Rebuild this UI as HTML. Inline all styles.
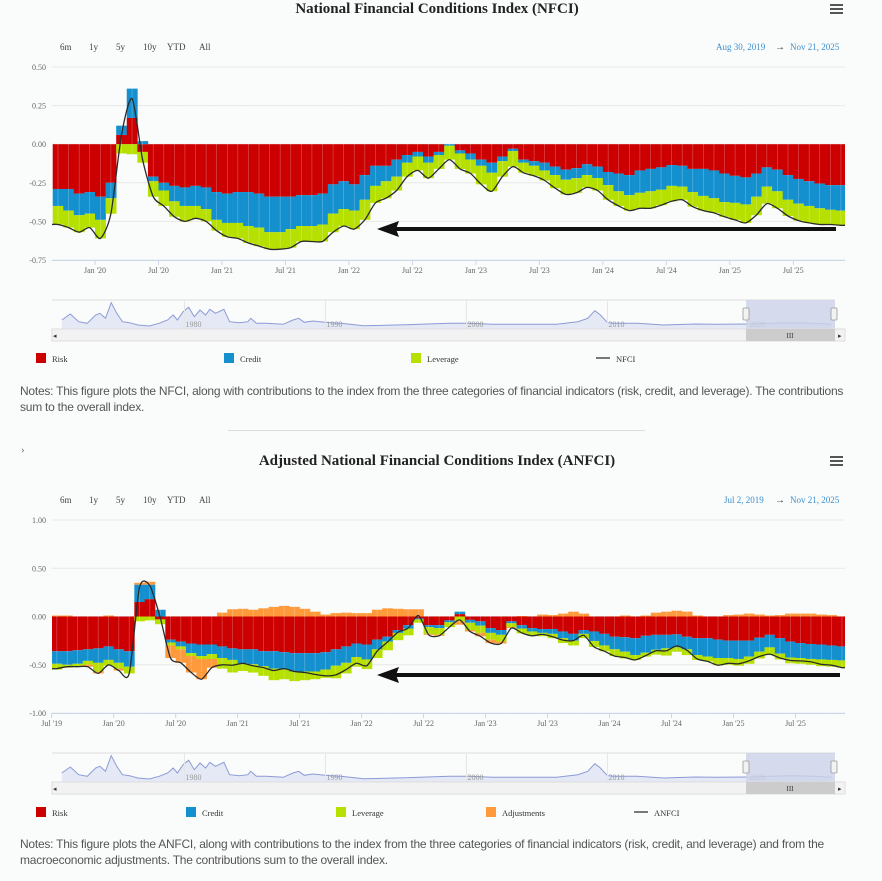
<!DOCTYPE html>
<html><head><meta charset="utf-8"><style>
body{margin:0;background:#fafbfb;width:882px;height:881px;overflow:hidden;font-family:"Liberation Serif",serif}
svg{position:absolute;left:0;top:0}
.notes{position:absolute;left:20px;width:862px;font-family:"Liberation Sans",sans-serif;font-size:12px;line-height:16px;color:#555;letter-spacing:-0.24px}
</style></head><body>
<svg id="svg" width="882" height="881"></svg>
<div class="notes" style="top:383px">Notes: This figure plots the NFCI, along with contributions to the index from the three categories of financial indicators (risk, credit, and leverage). The contributions<br>sum to the overall index.</div>
<div class="notes" style="top:836px">Notes: This figure plots the ANFCI, along with contributions to the index from the three categories of financial indicators (risk, credit, and leverage) and from the<br>macroeconomic adjustments. The contributions sum to the overall index.</div>
<script>
// ---- NFCI data (monthly, Sep 2019 .. Nov 2025) ----
const nfciRisk=[-0.29,-0.29,-0.32,-0.31,
-0.34,-0.25,0.06,0.17,-0.05,-0.21,-0.25,-0.27,-0.28,-0.27,-0.28,-0.31,
-0.32,-0.31,-0.31,-0.32,-0.34,-0.34,-0.34,-0.33,-0.33,-0.32,-0.26,-0.24,
-0.26,-0.20,-0.14,-0.14,-0.10,-0.07,-0.05,-0.08,-0.05,0.0,-0.04,-0.06,
-0.10,-0.12,-0.08,-0.03,-0.10,-0.11,-0.12,-0.145,-0.165,-0.155,-0.13,-0.145,
-0.18,-0.19,-0.20,-0.17,-0.16,-0.15,-0.135,-0.14,-0.16,-0.16,-0.17,-0.19,
-0.205,-0.215,-0.19,-0.15,-0.165,-0.20,-0.225,-0.24,-0.255,-0.265,-0.265];
const nfciCredit=[-0.11,-0.14,-0.14,-0.14,
-0.15,-0.10,0.06,0.19,0.02,-0.03,-0.05,-0.10,-0.12,-0.13,-0.14,-0.18,
-0.19,-0.20,-0.22,-0.22,-0.23,-0.23,-0.21,-0.20,-0.20,-0.20,-0.19,-0.18,
-0.17,-0.16,-0.13,-0.10,-0.11,-0.05,-0.03,-0.04,-0.02,-0.01,-0.02,-0.04,
-0.04,-0.065,-0.03,-0.015,-0.02,-0.03,-0.05,-0.055,-0.065,-0.065,-0.07,-0.075,
-0.085,-0.115,-0.13,-0.145,-0.145,-0.145,-0.135,-0.135,-0.15,-0.175,-0.18,-0.185,
-0.175,-0.175,-0.15,-0.125,-0.14,-0.16,-0.16,-0.16,-0.16,-0.16,-0.165];
const nfciLeverage=[-0.12,-0.11,-0.11,-0.09,
-0.12,-0.10,-0.06,-0.065,-0.07,-0.10,-0.10,-0.10,-0.10,-0.08,-0.08,-0.07,
-0.09,-0.10,-0.11,-0.12,-0.11,-0.11,-0.12,-0.10,-0.10,-0.11,-0.12,-0.11,
-0.12,-0.13,-0.11,-0.11,-0.09,-0.09,-0.09,-0.10,-0.09,-0.09,-0.10,-0.09,
-0.12,-0.12,-0.10,-0.10,-0.065,-0.065,-0.065,-0.085,-0.095,-0.095,-0.08,-0.08,
-0.095,-0.095,-0.10,-0.10,-0.11,-0.10,-0.10,-0.085,-0.095,-0.095,-0.095,-0.095,
-0.11,-0.12,-0.12,-0.11,-0.11,-0.105,-0.11,-0.11,-0.105,-0.095,-0.095];
const nfciYTicks=[0.5,0.25,0,-0.25,-0.5,-0.75];
const nfciXLabels=["Jan '20","Jul '20","Jan '21","Jul '21","Jan '22","Jul '22","Jan '23","Jul '23","Jan '24","Jul '24","Jan '25","Jul '25"];
const nfciXMonths=[4,10,16,22,28,34,40,46,52,58,64,70];

// ---- ANFCI data (monthly, Jul 2019 .. Nov 2025) ----
const anfciRisk=[-0.36,-0.36,-0.35,-0.34,-0.33,-0.31,
-0.34,-0.36,0.15,0.18,-0.03,-0.24,-0.26,-0.28,-0.29,-0.29,-0.31,-0.33,
-0.34,-0.34,-0.36,-0.36,-0.37,-0.38,-0.38,-0.38,-0.37,-0.34,-0.31,-0.28,
-0.29,-0.24,-0.21,-0.14,-0.09,-0.02,-0.09,-0.09,-0.04,0.025,-0.035,-0.05,
-0.12,-0.14,-0.05,-0.09,-0.12,-0.13,-0.13,-0.155,-0.18,-0.14,-0.155,-0.18,
-0.21,-0.215,-0.225,-0.20,-0.19,-0.19,-0.185,-0.21,-0.225,-0.225,-0.24,-0.25,
-0.25,-0.25,-0.22,-0.19,-0.225,-0.26,-0.275,-0.285,-0.29,-0.30,-0.31];
const anfciCredit=[-0.13,-0.14,-0.14,-0.12,-0.15,-0.14,
-0.14,-0.16,0.18,0.15,0.07,-0.03,-0.05,-0.10,-0.12,-0.10,-0.12,-0.12,
-0.145,-0.155,-0.155,-0.18,-0.18,-0.19,-0.19,-0.19,-0.18,-0.17,-0.17,-0.14,
-0.155,-0.10,-0.05,-0.03,-0.035,-0.01,-0.02,-0.03,-0.02,0.025,-0.03,-0.045,
-0.05,-0.05,-0.02,-0.035,-0.035,-0.04,-0.05,-0.07,-0.07,-0.04,-0.10,-0.12,
-0.13,-0.15,-0.175,-0.175,-0.155,-0.14,-0.135,-0.13,-0.175,-0.19,-0.19,-0.18,
-0.19,-0.165,-0.145,-0.13,-0.16,-0.165,-0.155,-0.155,-0.155,-0.15,-0.145];
const anfciLeverage=[-0.06,-0.03,-0.03,-0.04,-0.09,-0.06,
-0.06,-0.07,-0.05,-0.04,-0.05,-0.03,-0.03,-0.03,-0.03,-0.05,-0.11,-0.13,
-0.08,-0.086,-0.10,-0.12,-0.10,-0.10,-0.09,-0.08,-0.085,-0.13,-0.11,-0.10,
-0.10,-0.09,-0.09,-0.075,-0.07,-0.035,-0.07,-0.07,-0.05,-0.05,-0.075,-0.075,
-0.07,-0.07,-0.04,-0.05,-0.045,-0.035,-0.045,-0.05,-0.05,-0.045,-0.06,-0.06,
-0.07,-0.07,-0.05,-0.04,-0.05,-0.075,-0.045,-0.06,-0.05,-0.05,-0.07,-0.07,
-0.07,-0.075,-0.07,-0.08,-0.06,-0.06,-0.06,-0.06,-0.07,-0.07,-0.075];
const anfciAdjust=[0.01,0.01,0.0,-0.02,-0.02,0.01,
-0.02,0.0,0.02,0.03,0.0,-0.13,-0.14,-0.17,-0.21,-0.09,0.04,0.075,
0.08,0.07,0.085,0.10,0.11,0.10,0.08,0.05,0.02,0.035,0.04,0.035,
0.035,0.07,0.085,0.08,0.075,0.075,-0.01,-0.01,0.0,-0.035,-0.015,-0.035,
-0.035,-0.02,-0.01,0.005,0.0,0.02,0.015,0.03,0.05,0.03,0.0,0.0,
0.0,0.01,0.0,0.01,0.04,0.05,0.06,0.05,0.01,0.0,-0.005,0.015,
0.02,0.03,0.02,0.01,0.015,0.03,0.03,0.03,0.02,0.015,0.0];
const anfciYTicks=[1,0.5,0,-0.5,-1];
const anfciXLabels=["Jul '19","Jan '20","Jul '20","Jan '21","Jul '21","Jan '22","Jul '22","Jan '23","Jul '23","Jan '24","Jul '24","Jan '25","Jul '25"];
const anfciXMonths=[0,6,12,18,24,30,36,42,48,54,60,66,72];

// ---- navigator history (year, index value) ----
const navYears=[1971.3,1971.9,1972.5,1973.1,1973.7,1974.0,1974.4,1974.8,1975.2,1975.6,1976.1,1976.7,1977.5,1978.2,1978.8,1979.2,1979.5,1979.9,1980.3,1980.7,1981.1,1981.5,1981.8,1982.2,1982.8,1983.2,1983.9,1984.5,1984.7,1985.1,1985.8,1987.0,1987.7,1988.1,1988.5,1989.1,1989.6,1990.4,1991.1,1992.7,1994.2,1995.7,1997.2,1998.8,2000.3,2001.8,2004.1,2006.4,2007.9,2008.6,2009.1,2009.5,2010.0,2010.5,2012.1,2014.0,2016.2,2017.7,2020.0,2021.6,2023.1,2024.6,2025.9];
const navValues=[0.5,1.1,0.33,0.17,1.0,1.17,0.67,2.23,1.17,0.33,0.23,0.0,-0.1,0.17,0.5,1.0,0.5,1.33,1.77,0.83,1.5,1.0,1.57,1.17,1.57,0.33,0.23,0.33,0.67,0.17,0.17,0.07,0.5,0.67,0.27,0.4,0.33,0.23,0.17,-0.07,-0.03,0.03,0.1,0.17,0.17,0.07,0.07,0.07,0.33,0.67,1.43,1.0,0.23,0.17,0.17,0.0,0.1,0.07,0.1,0.17,0.23,0.17,0.07];
const navLabels=["1980","1990","2000","2010","2020"];
const navLabelYears=[1980,1990,2000,2010,2020];

const NS='http://www.w3.org/2000/svg';
const svg=document.getElementById('svg');
function mk(tag,attrs,parent){const e=document.createElementNS(NS,tag);for(const k in attrs)e.setAttribute(k,attrs[k]);(parent||svg).appendChild(e);return e;}
function txt(s,x,y,attrs,parent){const t=mk('text',Object.assign({x:x,y:y},attrs),parent);t.textContent=s;return t;}
function smooth(pts){let d='M'+pts[0][0].toFixed(1)+','+pts[0][1].toFixed(1);
 for(let i=0;i<pts.length-1;i++){const p0=pts[Math.max(0,i-1)],p1=pts[i],p2=pts[i+1],p3=pts[Math.min(pts.length-1,i+2)];
 const c1=[p1[0]+(p2[0]-p0[0])/8,p1[1]+(p2[1]-p0[1])/8],c2=[p2[0]-(p3[0]-p1[0])/8,p2[1]-(p3[1]-p1[1])/8];
 d+='C'+c1[0].toFixed(1)+','+c1[1].toFixed(1)+' '+c2[0].toFixed(1)+','+c2[1].toFixed(1)+' '+p2[0].toFixed(1)+','+p2[1].toFixed(1);}return d;}

const COLORS={risk:'#cc0000',credit:'#1490cf',leverage:'#b6e000',adjust:'#ff9a3c'};

function chart(cfg){
 const g=mk('g',{});
 
 
 const yS=v=>cfg.yTop+(cfg.vTop-v)/(cfg.vTop-cfg.vBot)*(cfg.yBot-cfg.yTop);
 const xS=m=>cfg.x0m+m*cfg.mpx;
 const t=txt(cfg.title,437,cfg.titleY,{'text-anchor':'middle','font-size':'15','font-weight':'bold',fill:'#222','font-family':'Liberation Serif,serif'},g);
 
 
 const menu=mk('g',{},g);
 
 
 for(let i=0;i<3;i++)mk('rect',{x:830,y:cfg.titleY-9+i*4,width:13,height:2,fill:'#555'},menu);
 const btns=['6m','1y','5y','10y','YTD','All'],bx=[60,89,116,143,167,199];
 btns.forEach((b,i)=>{const e=txt(b,bx[i],cfg.btnY,{'font-size':'9',fill:'#444'},g);
  
  });
 const d1=txt(cfg.from,cfg.fromX,cfg.btnY,{'font-size':'9',fill:'#3a8fd1'},g);
 
 
 txt('→',775,cfg.btnY,{'font-size':'10',fill:'#333'},g);
 const d2=txt('Nov 21, 2025',790,cfg.btnY,{'font-size':'9',fill:'#3a8fd1'},g);
 
 
 cfg.yTicks.forEach(v=>{const y=yS(v);
  mk('line',{x1:52,x2:845,y1:y,y2:y,stroke:'#e8e8e8','stroke-width':1},g);
  const l=txt(v.toFixed(2),46,y+3,{'text-anchor':'end','font-size':'8',fill:'#666'},g);
  
  });
 mk('line',{x1:52,x2:845,y1:cfg.yBot+0.5,y2:cfg.yBot+0.5,stroke:'#ccd6eb'},g);
 cfg.xLabels.forEach((s,i)=>{const x=xS(cfg.xMonths[i]);
  mk('line',{x1:x,x2:x,y1:cfg.yBot,y2:cfg.yBot+5,stroke:'#ccd6eb'},g);
  const l=txt(s,x,cfg.yBot+13,{'text-anchor':'middle','font-size':'8',fill:'#666'},g);
  
  });
 const clipId='clip'+cfg.name;
 const cp=mk('clipPath',{id:clipId},g);mk('rect',{x:52,y:cfg.yTop-10,width:793,height:cfg.yBot-cfg.yTop+10},cp);
 const bars=mk('g',{'clip-path':'url(#'+clipId+')'},g);
 
 
 const n=cfg.series[0].vals.length,sums=[];
 for(let i=0;i<n;i++){let pos=0,neg=0,s=0;const x=xS(i);
  cfg.series.forEach(se=>{const v=se.vals[i];s+=v;let a,b;
   if(v>=0){a=pos;b=pos+v;pos=b;}else{a=neg;b=neg+v;neg=b;}
   const y1=yS(Math.max(a,b)),y2=yS(Math.min(a,b));
   const r=mk('rect',{x:x.toFixed(2),y:y1.toFixed(2),width:(cfg.mpx+0.3).toFixed(2),height:Math.max(0,y2-y1).toFixed(2),fill:se.color},bars);
   
   });
  sums.push(s);}
 for(let i=0;i<n;i++){const x=xS(i)+cfg.mpx*0.5;
  mk('line',{x1:x,x2:x,y1:cfg.yTop,y2:cfg.yBot,stroke:'#fafbfb','stroke-width':0.6,opacity:0.35},bars);}
 const pts=sums.map((s,i)=>[xS(i)+cfg.mpx/2,yS(s)]);
 pts.unshift([52,yS(sums[0])]);
 pts.push([845,yS(sums[n-1])]);
 const ln=mk('path',{d:smooth(pts),fill:'none',stroke:'#2a2a2a','stroke-width':1.3},g);
 
 
 const ar=mk('g',{},g);
 
 
 mk('line',{x1:395,x2:cfg.arrowEnd,y1:cfg.arrowY,y2:cfg.arrowY,stroke:'#111','stroke-width':4},ar);
 mk('polygon',{points:`377,${cfg.arrowY} 399,${cfg.arrowY-8} 396,${cfg.arrowY} 399,${cfg.arrowY+8}`,fill:'#111'},ar);
 const ny=cfg.navY;
 const nav=mk('g',{},g);
 
 
 mk('line',{x1:52,x2:835,y1:ny,y2:ny,stroke:'#ddd'},nav);
 const nx=yr=>61.8+(yr-1971.3)*14.1, nvy=v=>ny+25-v*10;
 const np=navYears.map((yr,i)=>[nx(yr),nvy(navValues[i])]);
 let d='M'+np.map(p=>p[0].toFixed(1)+','+p[1].toFixed(1)).join('L');
 mk('path',{d:d+`L${np[np.length-1][0]},${ny+29}L${np[0][0]},${ny+29}Z`,fill:'#e4e9f5'},nav);
 mk('path',{d:d,fill:'none',stroke:'#8c9bd6','stroke-width':1},nav);
 navLabels.forEach((s,i)=>{const x=nx(navLabelYears[i]);
  mk('line',{x1:x,x2:x,y1:ny,y2:ny+29,stroke:'#e6e6e6'},nav);
  txt(s,x+1,ny+27,{'font-size':'8',fill:'#999'},nav);});
 mk('rect',{x:746,y:ny,width:89,height:29,fill:'#ccd3e8',opacity:0.8},nav);
 [746,834].forEach(x=>{mk('rect',{x:x-3,y:ny+8,width:6,height:12,fill:'#f2f2f2',stroke:'#999','stroke-width':0.8,rx:1},nav);});
 mk('rect',{x:52,y:ny+29,width:793,height:12,fill:'#f2f2f2',stroke:'#ddd'},nav);
 mk('rect',{x:746,y:ny+29,width:89,height:12,fill:'#cccccc'},nav);
 txt('III',790,ny+38,{'text-anchor':'middle','font-size':'7',fill:'#333'},nav);
 txt('◂',53,ny+38,{'font-size':'7',fill:'#333'},nav);
 txt('▸',838,ny+38,{'font-size':'7',fill:'#333'},nav);
 cfg.legend.forEach(it=>{const lg=mk('g',{},g);
  
  
  if(it.color) mk('rect',{x:it.x,y:cfg.legY-9,width:10,height:10,fill:it.color},lg);
  else mk('line',{x1:it.x,x2:it.x+14,y1:cfg.legY-4,y2:cfg.legY-4,stroke:'#333','stroke-width':1.3},lg);
  txt(it.label,it.x+(it.color?16:20),cfg.legY,{'font-size':'8.5',fill:'#333'},lg);});
}

chart({name:'nfci-chart',title:'National Financial Conditions Index (NFCI)',titleY:13,btnY:50,from:'Aug 30, 2019',fromX:716,
 yTop:67,yBot:260,vTop:0.5,vBot:-0.75,x0m:52.7,mpx:10.58,yTicks:nfciYTicks,xLabels:nfciXLabels,xMonths:nfciXMonths,
 series:[{key:'risk',vals:nfciRisk,color:COLORS.risk},{key:'credit',vals:nfciCredit,color:COLORS.credit},{key:'leverage',vals:nfciLeverage,color:COLORS.leverage}],
 arrowY:229,arrowEnd:836,navY:300,legY:362,
 legend:[{x:36,label:'Risk',color:COLORS.risk},{x:224,label:'Credit',color:COLORS.credit},{x:411,label:'Leverage',color:COLORS.leverage},{x:596,label:'NFCI'}]});

mk('line',{x1:228,x2:645,y1:430.5,y2:430.5,stroke:'#ddd'});
txt('›',21,453,{'font-size':'11',fill:'#666'});

chart({name:'anfci-chart',title:'Adjusted National Financial Conditions Index (ANFCI)',titleY:465,btnY:503,from:'Jul 2, 2019',fromX:724,
 yTop:520,yBot:713,vTop:1,vBot:-1,x0m:51.7,mpx:10.33,yTicks:anfciYTicks,xLabels:anfciXLabels,xMonths:anfciXMonths,
 series:[{key:'risk',vals:anfciRisk,color:COLORS.risk},{key:'credit',vals:anfciCredit,color:COLORS.credit},{key:'leverage',vals:anfciLeverage,color:COLORS.leverage},{key:'adjustments',vals:anfciAdjust,color:COLORS.adjust}],
 arrowY:675,arrowEnd:840,navY:753,legY:816,
 legend:[{x:36,label:'Risk',color:COLORS.risk},{x:186,label:'Credit',color:COLORS.credit},{x:336,label:'Leverage',color:COLORS.leverage},{x:486,label:'Adjustments',color:COLORS.adjust},{x:634,label:'ANFCI'}]});
</script>
</body></html>
